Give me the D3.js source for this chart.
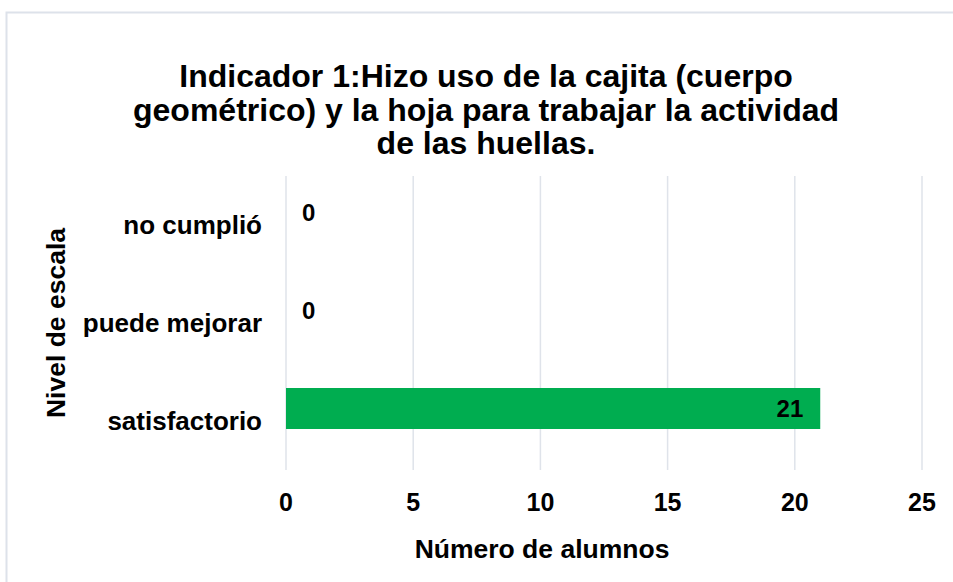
<!DOCTYPE html>
<html>
<head>
<meta charset="utf-8">
<script src="https://cdn.jsdelivr.net/npm/d3@7"></script>
<style>
    body { margin: 0; background: #fff; }
    text { font-family: "Liberation Sans", Arial, sans-serif; font-weight: bold; fill: #000; }
</style>
</head>
<body>
<svg id="chart" width="953" height="582"></svg>
<script>
// data
const categories = ["no cumplió", "puede mejorar", "satisfactorio"];
const values = [0, 0, 21];
const xTicks = [0, 5, 10, 15, 20, 25];
const titleLines = [
    "Indicador 1:Hizo uso de la cajita (cuerpo",
    "geométrico) y la hoja para trabajar la actividad",
    "de las huellas."
];
const xTitle = "Número de alumnos";
const yTitle = "Nivel de escala";

const svg = d3.select("#chart");
const plot = { left: 286, right: 922, top: 176, bottom: 470 };
const barColor = "#00ad50";
const gridColor = "#dfe3ea";

// chart area border (only top and left show in the frame)
svg.append("rect")
    .attr("x", 6.5).attr("y", 12.5)
    .attr("width", 960).attr("height", 600)
    .attr("fill", "none")
    .attr("stroke", "#dde2ea")
    .attr("stroke-width", 2);

const x = d3.scaleLinear().domain([0, 25]).range([plot.left, plot.right]);
// first category at the top
const y = d3.scaleBand().domain(categories).range([plot.top, plot.bottom]);

const barHeight = 41;
const barShift = -12.5; // bars sit a bit above the category centre

// gridlines
svg.append("g")
    .selectAll("line")
    .data(xTicks)
    .join("line")
    .attr("x1", d => x(d)).attr("x2", d => x(d))
    .attr("y1", plot.top).attr("y2", plot.bottom)
    .attr("stroke", gridColor)
    .attr("stroke-width", 1.5);

// bars
svg.append("g")
    .selectAll("rect")
    .data(categories)
    .join("rect")
    .attr("x", x(0))
    .attr("y", d => y(d) + y.bandwidth() / 2 + barShift - barHeight / 2)
    .attr("width", (d, i) => x(values[i]) - x(0))
    .attr("height", barHeight)
    .attr("fill", barColor);

// value labels
svg.append("g")
    .selectAll("text")
    .data(categories)
    .join("text")
    .attr("x", (d, i) => values[i] > 0 ? x(values[i]) - 17 : x(values[i]) + 16)
    .attr("y", d => y(d) + y.bandwidth() / 2 + barShift)
    .attr("dy", "0.35em")
    .attr("text-anchor", (d, i) => values[i] > 0 ? "end" : "start")
    .style("font-size", "24px")
    .text((d, i) => values[i]);

// category labels
svg.append("g")
    .selectAll("text")
    .data(categories)
    .join("text")
    .attr("x", 262)
    .attr("y", d => y(d) + y.bandwidth() / 2)
    .attr("dy", "0.35em")
    .attr("text-anchor", "end")
    .style("font-size", "26px")
    .text(d => d);

// x tick labels
svg.append("g")
    .selectAll("text")
    .data(xTicks)
    .join("text")
    .attr("x", d => x(d))
    .attr("y", 502)
    .attr("dy", "0.35em")
    .attr("text-anchor", "middle")
    .style("font-size", "25px")
    .text(d => d);

// axis titles
svg.append("text")
    .attr("x", 542).attr("y", 549)
    .attr("dy", "0.35em")
    .attr("text-anchor", "middle")
    .style("font-size", "26.5px")
    .text(xTitle);

svg.append("text")
    .attr("transform", "translate(56,323) rotate(-90)")
    .attr("dy", "0.35em")
    .attr("text-anchor", "middle")
    .style("font-size", "26.5px")
    .text(yTitle);

// title
svg.append("g")
    .selectAll("text")
    .data(titleLines)
    .join("text")
    .attr("x", 486)
    .attr("y", (d, i) => 76 + i * 33.5)
    .attr("dy", "0.35em")
    .attr("text-anchor", "middle")
    .style("font-size", "32px")
    .text(d => d);
</script>
</body>
</html>
